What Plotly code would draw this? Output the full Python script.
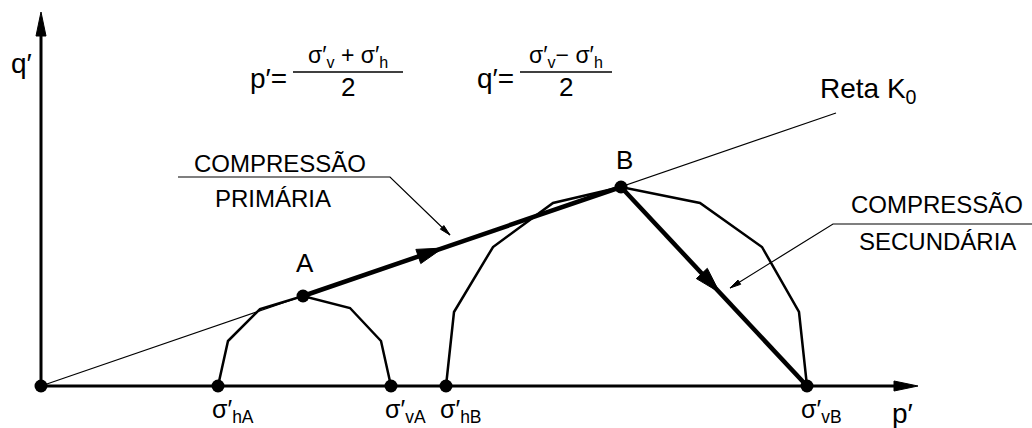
import numpy as np
import plotly.graph_objects as go

# ---- data (p′, q′ in drawing units) ----
# effective principal stresses on the p′ axis
stress_labels = ["σ′<sub>hA</sub>", "σ′<sub>vA</sub>", "σ′<sub>hB</sub>", "σ′<sub>vB</sub>"]
stress_p = [177, 350, 405, 766]

# stress states A and B (top of each Mohr circle)
state_names = ["A", "B"]
state_p = [262, 580]
state_q = [90, 199]

# Mohr circles drawn as polylines
arc_a_p = [177, 187, 219, 262, 309, 340, 350]
arc_a_q = [0, 45, 77, 90, 78, 45, 0]
arc_b_p = [405, 413, 452, 512, 580, 659, 721, 758, 766]
arc_b_q = [0, 74, 139, 183, 199, 183, 139, 74, 0]

# K0 line from the origin
k0_p = [0, 795]
k0_q = [0, 273]

# ---- layout constants ----
P_AXIS_END = 877
Q_AXIS_END = 374
FONT = "Liberation Sans, Arial, sans-serif"
BLACK = "#000000"


def head(tip, tail, length, width):
    """Filled triangular arrowhead with its point at `tip`, aligned tail->tip."""
    tip = np.asarray(tip, float)
    d = tip - np.asarray(tail, float)
    d /= np.hypot(*d)
    n = np.array([-d[1], d[0]])
    base = tip - d * length
    pts = [tip, base + n * width / 2, base - n * width / 2, tip]
    return [p[0] for p in pts], [p[1] for p in pts]


fig = go.Figure()


def line(xs, ys, w):
    fig.add_trace(go.Scatter(x=xs, y=ys, mode="lines",
                             line=dict(color=BLACK, width=w),
                             hoverinfo="skip"))


def fill(xs, ys):
    fig.add_trace(go.Scatter(x=xs, y=ys, mode="lines", fill="toself",
                             fillcolor=BLACK, line=dict(color=BLACK, width=1),
                             hoverinfo="skip"))


# K0 line
line(k0_p, k0_q, 1.2)

# Mohr circles
line(arc_a_p, arc_a_q, 2.5)
line(arc_b_p, arc_b_q, 2.5)

# coordinate axes with arrowheads
line([0, P_AXIS_END - 18], [0, 0], 3)
line([0, 0], [0, Q_AXIS_END - 18], 3)
fill(*head((P_AXIS_END, 0), (0, 0), 24, 10))
fill(*head((0, Q_AXIS_END), (0, 0), 24, 10))

# stress paths: A -> B (primary), B -> σ′vB (secondary)
pA = (state_p[0], state_q[0])
pB = (state_p[1], state_q[1])
pV = (stress_p[3], 0)
line([pA[0], pB[0]], [pA[1], pB[1]], 4.5)
line([pB[0], pV[0]], [pB[1], pV[1]], 4.5)
for a, b, t in [(pA, pB, 0.44), (pB, pV, 0.53)]:
    tip = (a[0] + t * (b[0] - a[0]), a[1] + t * (b[1] - a[1]))
    fill(*head(tip, a, 26, 15))

# callout leaders
callouts = [
    # (horizontal rule start, rule end/leader start, leader tip)
    ((137, 209), (349, 209), (409, 151)),
    ((991, 162), (792, 162), (689, 98)),
]
for start, knee, tip in callouts:
    line([start[0], knee[0], tip[0]], [start[1], knee[1], tip[1]], 1.2)
    fill(*head(tip, knee, 11, 5))

# points
fig.add_trace(go.Scatter(
    x=[0] + stress_p + state_p,
    y=[0] * (1 + len(stress_p)) + state_q,
    mode="markers", marker=dict(color=BLACK, size=13),
    hoverinfo="skip"))

ann = []


def text(x, y, s, size, xanchor="center", yanchor="middle"):
    ann.append(dict(x=x, y=y, text=s, showarrow=False, xref="x", yref="y",
                    xanchor=xanchor, yanchor=yanchor,
                    font=dict(family=FONT, size=size, color=BLACK)))


# stress labels under the p′ axis
for lab, p in zip(stress_labels, stress_p):
    text(p - 8, -25, lab, 25, xanchor="left")

# state labels
text(state_p[0] + 2, state_q[0] + 33, state_names[0], 26)
text(state_p[1] + 3, state_q[1] + 27, state_names[1], 26)

# axis titles
text(-20, 323, "q′", 28)
text(861, -27, "p′", 28)

# K0 line label
text(777, 296, "Reta K<sub>0</sub>", 28, xanchor="left")

# callout texts
text(239, 223, "COMPRESSÃO", 24)
text(232, 188, "PRIMÁRIA", 24)
text(896, 182, "COMPRESSÃO", 24)
text(896, 145, "SECUNDÁRIA", 24)

# definitions of p′ and q′
text(248, 308, "p′=", 28, xanchor="right")
text(307, 330, "σ′<sub>v</sub> + σ′<sub>h</sub>", 23)
text(307, 299, "2", 26)
text(475, 308, "q′=", 28, xanchor="right")
text(525, 330, "σ′<sub>v</sub>− σ′<sub>h</sub>", 23)
text(525, 299, "2", 26)

shapes = [
    dict(type="line", xref="x", yref="y", x0=252, x1=362, y0=314, y1=314,
         line=dict(color=BLACK, width=1.5)),
    dict(type="line", xref="x", yref="y", x0=479, x1=571, y0=314, y1=314,
         line=dict(color=BLACK, width=1.5)),
]

fig.update_layout(
    width=1032, height=428,
    margin=dict(l=0, r=0, t=0, b=0),
    paper_bgcolor="white", plot_bgcolor="white",
    showlegend=False,
    xaxis=dict(range=[-41, 991], visible=False, fixedrange=True),
    yaxis=dict(range=[-42, 386], visible=False, fixedrange=True),
    annotations=ann, shapes=shapes,
)

fig.write_html("out.html")
